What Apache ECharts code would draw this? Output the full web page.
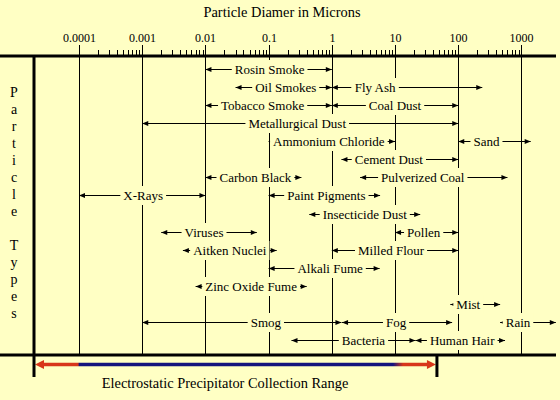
<!DOCTYPE html>
<html><head><meta charset="utf-8">
<script src="https://cdn.jsdelivr.net/npm/echarts@6/dist/echarts.min.js"></script>
<style>html,body{margin:0;padding:0;background:#FFFFC4}#c{width:560px;height:400px}</style>
</head><body><div id="c"></div>
<script>
// ---------------- data ----------------
const names = ['Rosin Smoke','Oil Smokes','Fly Ash','Tobacco Smoke','Coal Dust','Metallurgical Dust',
  'Ammonium Chloride','Sand','Cement Dust','Carbon Black','Pulverized Coal','X-Rays','Paint Pigments',
  'Insecticide Dust','Viruses','Pollen','Aitken Nuclei','Milled Flour','Alkali Fume','Zinc Oxide Fume',
  'Mist','Smog','Fog','Rain','Bacteria','Human Hair'];
const lows  = [0.01, 0.03, 1, 0.01, 1, 0.001, 0.1, 100, 1.42, 0.01, 2.8, 0.0001, 0.1,
  0.44, 0.002, 10, 0.0044, 1, 0.1, 0.007, 75, 0.001, 1.45, 460, 0.23, 21];
const highs = [1, 1, 240, 1, 100, 100, 10, 1400, 100, 0.33, 600, 0.01, 5.8,
  25, 0.065, 100, 0.134, 100, 5.7, 0.4, 460, 1.42, 80, 3500, 21, 550];
const rows  = [0, 1, 1, 2, 2, 3, 4, 4, 5, 6, 6, 7, 7, 8, 9, 9, 10, 10, 11, 12, 13, 14, 14, 14, 15, 15];
const tickValues = [0.0001, 0.001, 0.01, 0.1, 1, 10, 100, 1000];
const tickLabels = ['0.0001', '0.001', '0.01', '0.1', '1', '10', '100', '1000'];
const minorMultipliers = [2, 3, 4, 5, 6, 7, 8, 9];
const precipRange = [1.94e-5, 46];
const efficientRange = [0.0001, 10];
const titleText = 'Particle Diamer in Microns';
const sideLabel = 'Particle Types';
const captionText = 'Electrostatic Precipitator Collection Range';

// ---------------- layout / style ----------------
const X_MIN = 1.94e-5, X_MAX = 3520, Y_MIN = -0.72, Y_MAX = 15.83;
const labelDx = [1, 2, -32, -6, 0, -3, -3, -8, -11, 2, -11, 1, 2, 0, -5, -3, 0, -4, 6, 0, -7, 24, -1, -10, 10, 2];
const FAMILY = 'Liberation Serif';
const BG = '#FFFFC4';
const RED = '#D8361A', BLUE = '#14147E';

const chart = echarts.init(document.getElementById('c'), null, {renderer: 'svg', width: 560, height: 400});

function frameItem(params, api) {
  const top = api.coord([X_MIN, Y_MIN])[1];
  const bot = api.coord([X_MIN, Y_MAX])[1];
  const xl = api.coord([X_MIN, 0])[0];
  const xr = api.coord([X_MAX, 0])[0];
  const px = v => Math.round(api.coord([v, 0])[0]) + 0.5;
  const ch = [];
  tickValues.forEach((v, i) => {
    const x = px(v);
    ch.push({type: 'line', shape: {x1: x, y1: top - 11, x2: x, y2: bot}, style: {stroke: '#000', lineWidth: 1}});
    if (i < tickValues.length - 1) {
      minorMultipliers.forEach(m => {
        const xm = px(v * m);
        ch.push({type: 'line', shape: {x1: xm, y1: top - 6, x2: xm, y2: top}, style: {stroke: '#000', lineWidth: 1}});
      });
    }
  });
  // precipitator arrow
  const ya = bot + 9.5;
  const pl = api.coord([precipRange[0], 0])[0];
  const pr = api.coord([precipRange[1], 0])[0];
  const e1 = api.coord([efficientRange[0], 0])[0];
  const e2 = api.coord([efficientRange[1], 0])[0];
  const L = pr - pl;
  const t = x => Math.max(0, Math.min(1, (x - pl) / L));
  ch.push({type: 'line', shape: {x1: pl + 6, y1: ya, x2: pr - 6, y2: ya},
    style: {lineWidth: 3.5, stroke: {type: 'linear', x: pl, y: 0, x2: pr, y2: 0, global: true,
      colorStops: [{offset: 0, color: RED}, {offset: t(e1) - 0.002, color: RED}, {offset: t(e1), color: BLUE},
        {offset: t(e2) - 0.005, color: BLUE}, {offset: t(e2) + 0.02, color: RED}, {offset: 1, color: RED}]}}});
  ch.push({type: 'polygon', shape: {points: [[pl + 1, ya], [pl + 10, ya - 4.5], [pl + 10, ya + 4.5]]}, style: {fill: RED}});
  ch.push({type: 'polygon', shape: {points: [[pr - 1, ya], [pr - 10, ya - 4.5], [pr - 10, ya + 4.5]]}, style: {fill: RED}});
  // frame thick lines
  ch.push({type: 'line', shape: {x1: 0, y1: top, x2: xr, y2: top}, style: {stroke: '#000', lineWidth: 3}});
  ch.push({type: 'line', shape: {x1: 0, y1: bot, x2: xr, y2: bot}, style: {stroke: '#000', lineWidth: 3}});
  ch.push({type: 'line', shape: {x1: xl, y1: top, x2: xl, y2: bot + 22}, style: {stroke: '#000', lineWidth: 3}});
  ch.push({type: 'line', shape: {x1: pr, y1: bot, x2: pr, y2: bot + 22}, style: {stroke: '#000', lineWidth: 3}});
  return {type: 'group', children: ch};
}

function rangeItem(params, api) {
  const lo = api.value(0), hi = api.value(1), r = api.value(2);
  const p1 = api.coord([lo, r]), p2 = api.coord([hi, r]);
  const y = Math.round(p1[1]) + 0.5;
  const x1 = p1[0], x2 = p2[0];
  const ah = 6, aw = 2.5;
  return {type: 'group', children: [
    {type: 'line', shape: {x1: x1, y1: y, x2: x2, y2: y}, style: {stroke: '#000', lineWidth: 1}},
    {type: 'polygon', shape: {points: [[x1, y], [x1 + ah, y - aw], [x1 + ah, y + aw]]}, style: {fill: '#000'}},
    {type: 'polygon', shape: {points: [[x2, y], [x2 - ah, y - aw], [x2 - ah, y + aw]]}, style: {fill: '#000'}}
  ]};
}

const rangeData = names.map((n, i) => [lows[i], highs[i], rows[i], i]);

chart.setOption({
  animation: false,
  backgroundColor: BG,
  grid: {left: 34, right: 4, top: 56, bottom: 45},
  xAxis: {type: 'log', logBase: 10, min: X_MIN, max: X_MAX, show: false},
  yAxis: {type: 'value', inverse: true, min: Y_MIN, max: Y_MAX, show: false},
  series: [
    {type: 'custom', silent: true, z: 1, renderItem: frameItem, data: [[1, 0]], encode: {x: 0, y: 1}},
    {type: 'custom', silent: true, z: 2, renderItem: rangeItem, data: rangeData, encode: {x: [0, 1], y: 2}}
  ]
});

// ---------------- texts (positions from the chart's own scales) ----------------
const toPx = (v, r) => chart.convertToPixel({xAxisIndex: 0, yAxisIndex: 0}, [v, r]);
function txt(x, y, text, size, extra) {
  return {type: 'text', x: x, y: y, z: 100,
    style: Object.assign({text: text, fontFamily: FAMILY, fontSize: size, fill: '#000',
      align: 'center', verticalAlign: 'middle'}, extra || {})};
}
const topY = toPx(X_MIN, Y_MIN)[1];
const botY = toPx(X_MIN, Y_MAX)[1];
const texts = [];
names.forEach((n, i) => {
  const a = toPx(lows[i], rows[i]), b = toPx(highs[i], rows[i]);
  const y = Math.round(a[1]) + 0.5;
  texts.push(txt((a[0] + b[0]) / 2 + labelDx[i], y, n, 13, {backgroundColor: BG, padding: [2, 3], lineHeight: 15}));
});
tickValues.forEach((v, i) => {
  texts.push(txt(Math.round(toPx(v, 0)[0]) + 0.5, topY - 18, tickLabels[i], 12));
});
texts.push(txt(282, 12, titleText, 14.4));
texts.push(txt(225, botY + 28, captionText, 14.4));
texts.push(txt(14, 203, sideLabel.split('').join('\n'), 14, {lineHeight: 17}));
chart.setOption({graphic: texts});
</script>
</body></html>
